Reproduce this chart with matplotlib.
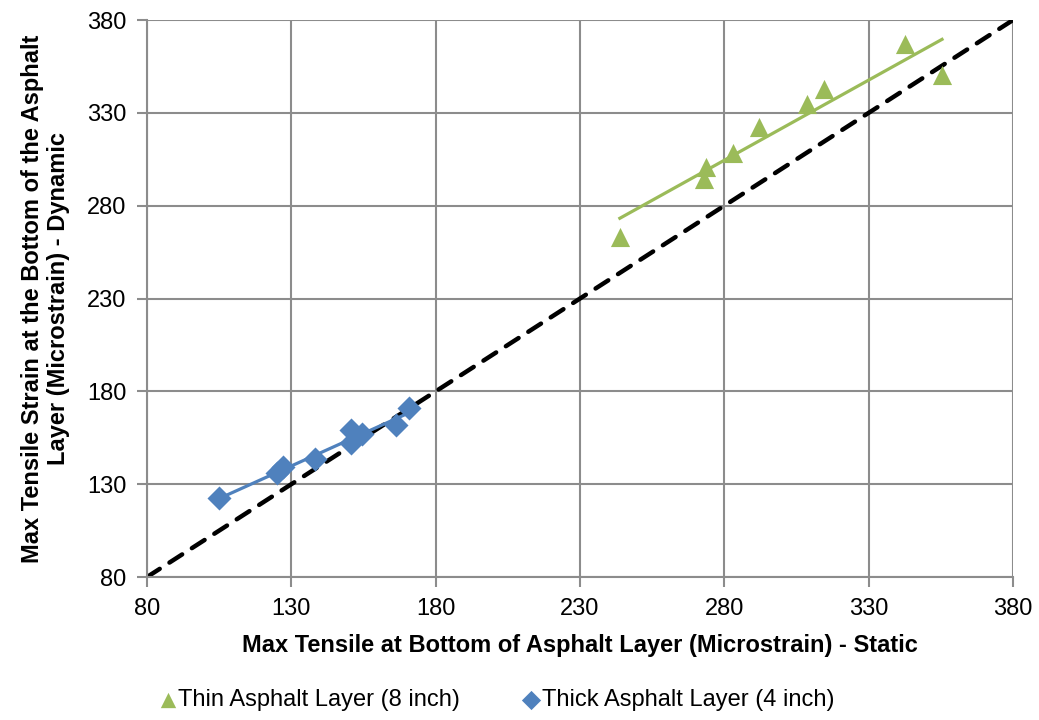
import numpy as np
import matplotlib
matplotlib.use("Agg")
import matplotlib.pyplot as plt

# static vs dynamic tensile strain at the bottom of the asphalt layer
thin_static = [243.8, 273.0, 273.5, 283.0, 292.0, 308.6, 314.6, 342.6, 355.4]
thin_dynamic = [263.0, 294.5, 301.0, 308.6, 322.3, 334.8, 342.6, 367.0, 350.3]

thick_static = [105.0, 125.1, 127.2, 138.2, 150.6, 150.6, 154.4, 166.2, 170.9]
thick_dynamic = [122.4, 135.8, 139.1, 143.4, 159.2, 152.0, 156.8, 161.9, 170.8]

ticks = [80, 130, 180, 230, 280, 330, 380]

GREEN = "#9BBB59"
BLUE = "#4F81BD"
GRID = "#8C8C8C"

plt.rcParams["font.family"] = ["Liberation Sans", "DejaVu Sans"]

fig = plt.figure(figsize=(10.39, 7.2), dpi=100)
ax = fig.add_axes([0.1415, 0.1986, 0.8335, 0.7736])

# 1:1 line
ax.plot([80, 380], [80, 380], color="black", lw=3.2, ls=(0, (3.4, 2.6)),
        dash_capstyle="round", zorder=2)

# linear trend lines
for xs, ys, c in [(thin_static, thin_dynamic, GREEN), (thick_static, thick_dynamic, BLUE)]:
    k, b = np.polyfit(xs, ys, 1)
    xr = np.array([min(xs), max(xs)])
    ax.plot(xr, k * xr + b, color=c, lw=2.3, zorder=3)

ax.scatter(thin_static, thin_dynamic, marker="^", s=190, color=GREEN,
           linewidths=0, zorder=4, label="Thin Asphalt Layer (8 inch)")
ax.scatter(thick_static, thick_dynamic, marker="D", s=150, color=BLUE,
           linewidths=0, zorder=4, label="Thick Asphalt Layer (4 inch)")

ax.set_xlim(80, 380)
ax.set_ylim(80, 380)
ax.set_xticks(ticks)
ax.set_yticks(ticks)
ax.tick_params(labelsize=17, colors=GRID, labelcolor="black", length=7, width=1.5, pad=8)
ax.grid(True, color=GRID, lw=1.5)
ax.set_axisbelow(True)
for s in ["top", "right"]:
    ax.spines[s].set_visible(False)
for s in ["left", "bottom"]:
    ax.spines[s].set_color(GRID)
    ax.spines[s].set_linewidth(1.5)

ax.set_xlabel("Max Tensile at Bottom of Asphalt Layer (Microstrain) - Static",
              fontsize=17, fontweight="bold", labelpad=10)
ax.set_ylabel("Max Tensile Strain at the Bottom of the Asphalt\nLayer (Microstrain) - Dynamic",
              fontsize=17, fontweight="bold", labelpad=12)

fig.legend(*ax.get_legend_handles_labels(), loc="center left",
           bbox_to_anchor=(156 / 1039, 20 / 720), ncol=2, frameon=False,
           fontsize=17, handlelength=1.0, handletextpad=-0.05, columnspacing=2.5,
           markerscale=0.8, borderaxespad=0, borderpad=0)

fig.savefig("out.png", dpi=100)
